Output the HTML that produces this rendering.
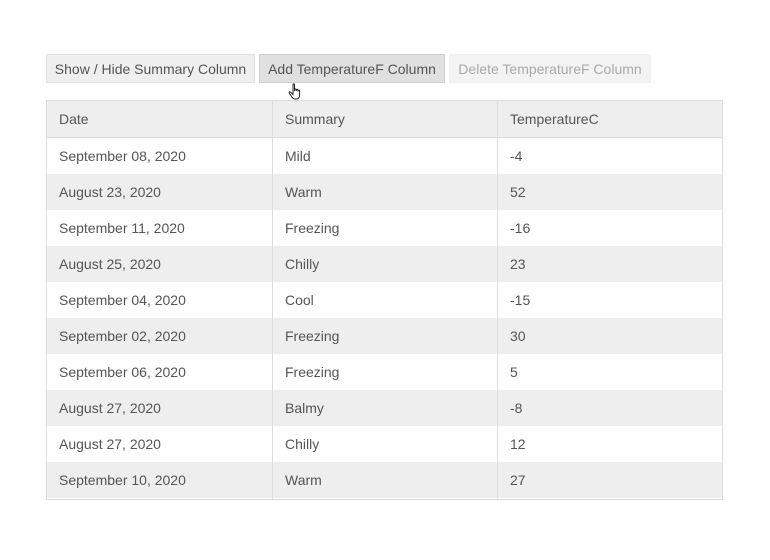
<!DOCTYPE html>
<html><head><meta charset="utf-8"><style>
html,body{margin:0;padding:0;background:#fff;width:770px;height:560px;overflow:hidden}
body{font-family:"Liberation Sans",Arial,sans-serif;font-size:14px;color:#555;position:relative}
.btn{position:absolute;top:54px;height:29px;line-height:29px;box-sizing:border-box;text-align:center;font-size:14px;color:#555;border:1px solid #e2e2e2;background:#efefef}
.b1{left:46px;width:209px}
.b2{left:259px;width:186px;background:#e0e0e0;border-color:#cfcfcf}
.b3{left:449px;width:202px;background:#f3f3f3;border-color:#f0f0f0;color:#aaa}
.tbl{position:absolute;left:46px;top:100px;width:677px;border:1px solid #ddd;border-bottom:none;box-sizing:border-box}
.row{height:36px;line-height:36px;position:relative}
.row.h{height:36px;line-height:36px;border-bottom:1px solid #ddd;background:#eee}
.row.g{background:#eee}
.c{position:absolute;top:0;bottom:0;padding-left:12px;box-sizing:border-box}
.c1{left:0;width:226px;border-right:1px solid #ddd}
.c2{left:226px;width:225px;border-right:1px solid #ddd}
.c3{left:451px;width:224px}
.last{height:1px;border-bottom:1px solid #ddd;position:relative}
.last .c{line-height:0}
</style></head><body>
<div class="btn b1">Show / Hide Summary Column</div>
<div class="btn b2">Add TemperatureF Column</div>
<div class="btn b3">Delete TemperatureF Column</div>
<svg style="position:absolute;left:288px;top:83px" width="16" height="18" viewBox="0 0 16 18"><path d="M5 1.5c0-.8 1.5-.8 1.5 0V8l.2-1.5c0-.8 1.5-.8 1.5 0V8l.2-1c0-.8 1.5-.8 1.5 0v1.5l.2-.8c0-.8 1.5-.8 1.5 0V12c0 2-1 4-3 4H7c-1.5 0-2.5-1-3.5-2.5L1.2 10c-.5-.8.5-1.6 1.2-1L5 11.5z" fill="#fff" stroke="#222" stroke-width="1"/></svg>
<div class="tbl">
<div class="row h"><div class="c c1">Date</div><div class="c c2">Summary</div><div class="c c3">TemperatureC</div></div>
<div class="row"><div class="c c1">September 08, 2020</div><div class="c c2">Mild</div><div class="c c3">-4</div></div>
<div class="row g"><div class="c c1">August 23, 2020</div><div class="c c2">Warm</div><div class="c c3">52</div></div>
<div class="row"><div class="c c1">September 11, 2020</div><div class="c c2">Freezing</div><div class="c c3">-16</div></div>
<div class="row g"><div class="c c1">August 25, 2020</div><div class="c c2">Chilly</div><div class="c c3">23</div></div>
<div class="row"><div class="c c1">September 04, 2020</div><div class="c c2">Cool</div><div class="c c3">-15</div></div>
<div class="row g"><div class="c c1">September 02, 2020</div><div class="c c2">Freezing</div><div class="c c3">30</div></div>
<div class="row"><div class="c c1">September 06, 2020</div><div class="c c2">Freezing</div><div class="c c3">5</div></div>
<div class="row g"><div class="c c1">August 27, 2020</div><div class="c c2">Balmy</div><div class="c c3">-8</div></div>
<div class="row"><div class="c c1">August 27, 2020</div><div class="c c2">Chilly</div><div class="c c3">12</div></div>
<div class="row g"><div class="c c1">September 10, 2020</div><div class="c c2">Warm</div><div class="c c3">27</div></div>
<div class="last"><div class="c c1"></div><div class="c c2"></div></div>
</div>
</body></html>
